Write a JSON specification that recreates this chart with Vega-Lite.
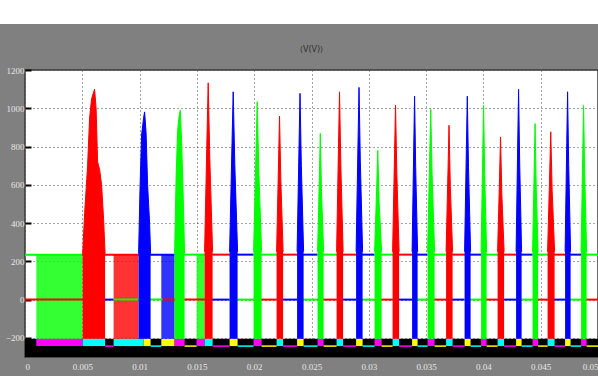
{
  "$schema": "https://vega.github.io/schema/vega-lite/v6.json",
  "width": 573,
  "height": 287,
  "autosize": {"type": "none"},
  "padding": {"left": 25, "top": 70, "right": 0, "bottom": 19},
  "background": "#808080",
  "datasets": {
    "pulses": [
      {"id":"p1","ph":"a","t":0.005026,"v":230},{"id":"p1","ph":"a","t":0.005201,"v":450},{"id":"p1","ph":"a","t":0.005462,"v":700},{"id":"p1","ph":"a","t":0.005637,"v":950},{"id":"p1","ph":"a","t":0.005812,"v":1050},{"id":"p1","ph":"a","t":0.006073,"v":1100},{"id":"p1","ph":"a","t":0.006204,"v":1000},{"id":"p1","ph":"a","t":0.006335,"v":720},{"id":"p1","ph":"a","t":0.00651,"v":680},{"id":"p1","ph":"a","t":0.006684,"v":600},{"id":"p1","ph":"a","t":0.006859,"v":420},{"id":"p1","ph":"a","t":0.00699,"v":240},
      {"id":"p2","ph":"b","t":0.009913,"v":240},{"id":"p2","ph":"b","t":0.010044,"v":600},{"id":"p2","ph":"b","t":0.010175,"v":860},{"id":"p2","ph":"b","t":0.010349,"v":950},{"id":"p2","ph":"b","t":0.010436,"v":981},{"id":"p2","ph":"b","t":0.010567,"v":870},{"id":"p2","ph":"b","t":0.010698,"v":600},{"id":"p2","ph":"b","t":0.010873,"v":400},{"id":"p2","ph":"b","t":0.01096,"v":240},
      {"id":"p3","ph":"c","t":0.013054,"v":240},{"id":"p3","ph":"c","t":0.013185,"v":640},{"id":"p3","ph":"c","t":0.013316,"v":880},{"id":"p3","ph":"c","t":0.013447,"v":960},{"id":"p3","ph":"c","t":0.013551,"v":990},{"id":"p3","ph":"c","t":0.013665,"v":830},{"id":"p3","ph":"c","t":0.013796,"v":560},{"id":"p3","ph":"c","t":0.013927,"v":240},
      {"id":"p4","ph":"a","t":0.015672,"v":250},{"id":"p4","ph":"a","t":0.015881,"v":850},{"id":"p4","ph":"a","t":0.015986,"v":1133},{"id":"p4","ph":"a","t":0.016126,"v":736},{"id":"p4","ph":"a","t":0.01637,"v":250},
      {"id":"p5","ph":"b","t":0.017853,"v":250},{"id":"p5","ph":"b","t":0.018063,"v":815},{"id":"p5","ph":"b","t":0.018167,"v":1086},{"id":"p5","ph":"b","t":0.018307,"v":706},{"id":"p5","ph":"b","t":0.018551,"v":250},
      {"id":"p6","ph":"c","t":0.019947,"v":250},{"id":"p6","ph":"c","t":0.020157,"v":776},{"id":"p6","ph":"c","t":0.020262,"v":1034},{"id":"p6","ph":"c","t":0.020401,"v":672},{"id":"p6","ph":"c","t":0.020646,"v":250},
      {"id":"p7","ph":"a","t":0.021955,"v":250},{"id":"p7","ph":"a","t":0.022125,"v":719},{"id":"p7","ph":"a","t":0.02221,"v":959},{"id":"p7","ph":"a","t":0.022324,"v":623},{"id":"p7","ph":"a","t":0.022522,"v":250},
      {"id":"p8","ph":"b","t":0.023743,"v":250},{"id":"p8","ph":"b","t":0.023914,"v":809},{"id":"p8","ph":"b","t":0.023999,"v":1078},{"id":"p8","ph":"b","t":0.024113,"v":701},{"id":"p8","ph":"b","t":0.024311,"v":250},
      {"id":"p9","ph":"c","t":0.025532,"v":250},{"id":"p9","ph":"c","t":0.025689,"v":651},{"id":"p9","ph":"c","t":0.025768,"v":868},{"id":"p9","ph":"c","t":0.025872,"v":564},{"id":"p9","ph":"c","t":0.026056,"v":250},
      {"id":"p10","ph":"a","t":0.02719,"v":250},{"id":"p10","ph":"a","t":0.02736,"v":815},{"id":"p10","ph":"a","t":0.027446,"v":1086},{"id":"p10","ph":"a","t":0.027559,"v":706},{"id":"p10","ph":"a","t":0.027757,"v":250},
      {"id":"p11","ph":"b","t":0.028892,"v":250},{"id":"p11","ph":"b","t":0.029062,"v":832},{"id":"p11","ph":"b","t":0.029147,"v":1109},{"id":"p11","ph":"b","t":0.029261,"v":721},{"id":"p11","ph":"b","t":0.029459,"v":250},
      {"id":"p12","ph":"c","t":0.030506,"v":250},{"id":"p12","ph":"c","t":0.030689,"v":585},{"id":"p12","ph":"c","t":0.030781,"v":780},{"id":"p12","ph":"c","t":0.030903,"v":507},{"id":"p12","ph":"c","t":0.031117,"v":250},
      {"id":"p13","ph":"a","t":0.032077,"v":250},{"id":"p13","ph":"a","t":0.032247,"v":762},{"id":"p13","ph":"a","t":0.032333,"v":1016},{"id":"p13","ph":"a","t":0.032446,"v":660},{"id":"p13","ph":"a","t":0.032644,"v":250},
      {"id":"p14","ph":"b","t":0.033778,"v":250},{"id":"p14","ph":"b","t":0.033922,"v":797},{"id":"p14","ph":"b","t":0.033995,"v":1063},{"id":"p14","ph":"b","t":0.034091,"v":691},{"id":"p14","ph":"b","t":0.034258,"v":250},
      {"id":"p15","ph":"c","t":0.035131,"v":250},{"id":"p15","ph":"c","t":0.035314,"v":746},{"id":"p15","ph":"c","t":0.035406,"v":994},{"id":"p15","ph":"c","t":0.035528,"v":646},{"id":"p15","ph":"c","t":0.035742,"v":250},
      {"id":"p16","ph":"a","t":0.036745,"v":250},{"id":"p16","ph":"a","t":0.036915,"v":683},{"id":"p16","ph":"a","t":0.037001,"v":911},{"id":"p16","ph":"a","t":0.037114,"v":592},{"id":"p16","ph":"a","t":0.037312,"v":250},
      {"id":"p17","ph":"b","t":0.038359,"v":250},{"id":"p17","ph":"b","t":0.038517,"v":797},{"id":"p17","ph":"b","t":0.038595,"v":1063},{"id":"p17","ph":"b","t":0.0387,"v":691},{"id":"p17","ph":"b","t":0.038883,"v":250},
      {"id":"p18","ph":"c","t":0.039799,"v":250},{"id":"p18","ph":"c","t":0.039943,"v":762},{"id":"p18","ph":"c","t":0.040016,"v":1016},{"id":"p18","ph":"c","t":0.040112,"v":660},{"id":"p18","ph":"c","t":0.040279,"v":250},
      {"id":"p19","ph":"a","t":0.041239,"v":250},{"id":"p19","ph":"a","t":0.041409,"v":638},{"id":"p19","ph":"a","t":0.041495,"v":850},{"id":"p19","ph":"a","t":0.041608,"v":553},{"id":"p19","ph":"a","t":0.041806,"v":250},
      {"id":"p20","ph":"b","t":0.042853,"v":250},{"id":"p20","ph":"b","t":0.042997,"v":824},{"id":"p20","ph":"b","t":0.04307,"v":1099},{"id":"p20","ph":"b","t":0.043166,"v":714},{"id":"p20","ph":"b","t":0.043333,"v":250},
      {"id":"p21","ph":"c","t":0.044293,"v":250},{"id":"p21","ph":"c","t":0.044437,"v":690},{"id":"p21","ph":"c","t":0.04451,"v":920},{"id":"p21","ph":"c","t":0.044606,"v":598},{"id":"p21","ph":"c","t":0.044773,"v":250},
      {"id":"p22","ph":"a","t":0.045602,"v":250},{"id":"p22","ph":"a","t":0.045785,"v":658},{"id":"p22","ph":"a","t":0.045877,"v":877},{"id":"p22","ph":"a","t":0.045999,"v":570},{"id":"p22","ph":"a","t":0.046213,"v":250},
      {"id":"p23","ph":"b","t":0.047129,"v":250},{"id":"p23","ph":"b","t":0.047273,"v":815},{"id":"p23","ph":"b","t":0.047346,"v":1086},{"id":"p23","ph":"b","t":0.047442,"v":706},{"id":"p23","ph":"b","t":0.047609,"v":250},
      {"id":"p24","ph":"c","t":0.048526,"v":250},{"id":"p24","ph":"c","t":0.048669,"v":762},{"id":"p24","ph":"c","t":0.048742,"v":1016},{"id":"p24","ph":"c","t":0.048838,"v":660},{"id":"p24","ph":"c","t":0.049005,"v":250}
    ],
    "levels": [
      {"t0":0,"t1":0.005026,"v":235,"ph":"c"},{"t0":0.005026,"t1":0.009913,"v":235,"ph":"a"},{"t0":0.009913,"t1":0.013054,"v":235,"ph":"b"},{"t0":0.013054,"t1":0.015672,"v":235,"ph":"c"},{"t0":0.015672,"t1":0.017853,"v":235,"ph":"a"},{"t0":0.017853,"t1":0.019947,"v":235,"ph":"b"},{"t0":0.019947,"t1":0.021955,"v":235,"ph":"c"},{"t0":0.021955,"t1":0.023743,"v":235,"ph":"a"},{"t0":0.023743,"t1":0.025532,"v":235,"ph":"b"},{"t0":0.025532,"t1":0.02719,"v":235,"ph":"c"},{"t0":0.02719,"t1":0.028892,"v":235,"ph":"a"},{"t0":0.028892,"t1":0.030506,"v":235,"ph":"b"},{"t0":0.030506,"t1":0.032077,"v":235,"ph":"c"},{"t0":0.032077,"t1":0.033778,"v":235,"ph":"a"},{"t0":0.033778,"t1":0.035131,"v":235,"ph":"b"},{"t0":0.035131,"t1":0.036745,"v":235,"ph":"c"},{"t0":0.036745,"t1":0.038359,"v":235,"ph":"a"},{"t0":0.038359,"t1":0.039799,"v":235,"ph":"b"},{"t0":0.039799,"t1":0.041239,"v":235,"ph":"c"},{"t0":0.041239,"t1":0.042853,"v":235,"ph":"a"},{"t0":0.042853,"t1":0.044293,"v":235,"ph":"b"},{"t0":0.044293,"t1":0.045602,"v":235,"ph":"c"},{"t0":0.045602,"t1":0.047129,"v":235,"ph":"a"},{"t0":0.047129,"t1":0.048526,"v":235,"ph":"b"},{"t0":0.048526,"t1":0.05,"v":235,"ph":"c"},
      {"t0":0,"t1":0.005026,"v":0,"ph":"a"},{"t0":0.005026,"t1":0.007731,"v":0,"ph":"b"},{"t0":0.007731,"t1":0.012007,"v":0,"ph":"c"},{"t0":0.012007,"t1":0.015672,"v":0,"ph":"a"},{"t0":0.015672,"t1":0.017853,"v":0,"ph":"b"},{"t0":0.017853,"t1":0.019947,"v":0,"ph":"c"},{"t0":0.019947,"t1":0.021955,"v":0,"ph":"a"},{"t0":0.021955,"t1":0.023743,"v":0,"ph":"b"},{"t0":0.023743,"t1":0.025532,"v":0,"ph":"c"},{"t0":0.025532,"t1":0.02719,"v":0,"ph":"a"},{"t0":0.02719,"t1":0.028892,"v":0,"ph":"b"},{"t0":0.028892,"t1":0.030506,"v":0,"ph":"c"},{"t0":0.030506,"t1":0.032077,"v":0,"ph":"a"},{"t0":0.032077,"t1":0.033778,"v":0,"ph":"b"},{"t0":0.033778,"t1":0.035131,"v":0,"ph":"c"},{"t0":0.035131,"t1":0.036745,"v":0,"ph":"a"},{"t0":0.036745,"t1":0.038359,"v":0,"ph":"b"},{"t0":0.038359,"t1":0.039799,"v":0,"ph":"c"},{"t0":0.039799,"t1":0.041239,"v":0,"ph":"a"},{"t0":0.041239,"t1":0.042853,"v":0,"ph":"b"},{"t0":0.042853,"t1":0.044293,"v":0,"ph":"c"},{"t0":0.044293,"t1":0.045602,"v":0,"ph":"a"},{"t0":0.045602,"t1":0.047129,"v":0,"ph":"b"},{"t0":0.047129,"t1":0.048526,"v":0,"ph":"c"},{"t0":0.048526,"t1":0.05,"v":0,"ph":"a"}
    ],
    "stripes": [
      {"t0":0.000986,"t1":0.005026,"ph":"c"},{"t0":0.007731,"t1":0.009913,"ph":"a"},{"t0":0.011894,"t1":0.013054,"ph":"b"},{"t0":0.014974,"t1":0.015672,"ph":"c"}
    ],
    "gates": [
      {"t0":0.000986,"t1":0.005026,"g":"gc"},{"t0":0.005026,"t1":0.00699,"g":"ga"},{"t0":0.007731,"t1":0.010349,"g":"ga"},{"t0":0.010349,"t1":0.01096,"g":"gb"},{"t0":0.011894,"t1":0.013054,"g":"gb"},{"t0":0.013054,"t1":0.013927,"g":"gc"},{"t0":0.014974,"t1":0.015672,"g":"gc"},
      {"t0":0.015672,"t1":0.01637,"g":"ga"},{"t0":0.017853,"t1":0.018551,"g":"gb"},{"t0":0.019947,"t1":0.020646,"g":"gc"},{"t0":0.021955,"t1":0.022522,"g":"ga"},{"t0":0.023743,"t1":0.024311,"g":"gb"},{"t0":0.025532,"t1":0.026056,"g":"gc"},{"t0":0.02719,"t1":0.027757,"g":"ga"},{"t0":0.028892,"t1":0.029459,"g":"gb"},{"t0":0.030506,"t1":0.031117,"g":"gc"},{"t0":0.032077,"t1":0.032644,"g":"ga"},{"t0":0.033778,"t1":0.034258,"g":"gb"},{"t0":0.035131,"t1":0.035742,"g":"gc"},{"t0":0.036745,"t1":0.037312,"g":"ga"},{"t0":0.038359,"t1":0.038883,"g":"gb"},{"t0":0.039799,"t1":0.040279,"g":"gc"},{"t0":0.041239,"t1":0.041806,"g":"ga"},{"t0":0.042853,"t1":0.043333,"g":"gb"},{"t0":0.044293,"t1":0.044773,"g":"gc"},{"t0":0.045602,"t1":0.046213,"g":"ga"},{"t0":0.047129,"t1":0.047609,"g":"gb"},{"t0":0.048526,"t1":0.049005,"g":"gc"}
    ],
    "gatelines": [
      {"t0":0.00699,"t1":0.007731,"g":"gc"},{"t0":0.01096,"t1":0.011894,"g":"ga"},{"t0":0.013927,"t1":0.014974,"g":"gb"},{"t0":0.01637,"t1":0.017853,"g":"gc"},{"t0":0.018551,"t1":0.019947,"g":"ga"},{"t0":0.020646,"t1":0.021955,"g":"gb"},{"t0":0.022522,"t1":0.023743,"g":"gc"},{"t0":0.024311,"t1":0.025532,"g":"ga"},{"t0":0.026056,"t1":0.02719,"g":"gb"},{"t0":0.027757,"t1":0.028892,"g":"gc"},{"t0":0.029459,"t1":0.030506,"g":"ga"},{"t0":0.031117,"t1":0.032077,"g":"gb"},{"t0":0.032644,"t1":0.033778,"g":"gc"},{"t0":0.034258,"t1":0.035131,"g":"ga"},{"t0":0.035742,"t1":0.036745,"g":"gb"},{"t0":0.037312,"t1":0.038359,"g":"gc"},{"t0":0.038883,"t1":0.039799,"g":"ga"},{"t0":0.040279,"t1":0.041239,"g":"gb"},{"t0":0.041806,"t1":0.042853,"g":"gc"},{"t0":0.043333,"t1":0.044293,"g":"ga"},{"t0":0.044773,"t1":0.045602,"g":"gb"},{"t0":0.046213,"t1":0.047129,"g":"gc"},{"t0":0.047609,"t1":0.048526,"g":"ga"},{"t0":0.049005,"t1":0.05,"g":"gb"}
    ]
  },
  "layer": [
    {
      "data": {"values": [{}]},
      "mark": {"type": "rect", "color": "white"},
      "encoding": {
        "x": {"datum": -0.01, "type": "quantitative", "scale": {"domain": [0, 0.05], "nice": false, "zero": false}, "axis": {"values": [0,0.005,0.01,0.015,0.02,0.025,0.03,0.035,0.04,0.045,0.05], "format": "~g", "labelPadding": 5, "ticks": false, "title": null}},
        "x2": {"datum": 0.06},
        "y": {"datum": 1440, "type": "quantitative", "scale": {"domain": [-300, 1200], "nice": false, "zero": false}, "axis": {"values": [-200,0,200,400,600,800,1000,1200], "format": "d", "labelPadding": 7, "tickSize": -6, "tickColor": "black", "tickWidth": 2, "title": null}},
        "y2": {"datum": 1570}
      }
    },
    {
      "data": {"values": [{"label": "⟨V(V)⟩"}]},
      "mark": {"type": "text", "font": "DejaVu Sans", "fontSize": 8, "color": "#303030", "align": "center", "baseline": "middle"},
      "encoding": {"x": {"datum": 0.025, "type": "quantitative"}, "y": {"datum": 1305, "type": "quantitative"}, "text": {"field": "label"}}
    },
    {
      "data": {"values": [{}]},
      "mark": {"type": "rect", "color": "black"},
      "encoding": {"x": {"datum": 0, "type": "quantitative"}, "x2": {"datum": 0.05}, "y": {"datum": -300, "type": "quantitative"}, "y2": {"datum": -205}}
    },
    {
      "data": {"name": "gates"},
      "mark": {"type": "rect"},
      "encoding": {"x": {"field": "t0", "type": "quantitative"}, "x2": {"field": "t1"}, "y": {"datum": -205, "type": "quantitative"}, "y2": {"datum": -243}, "color": {"field": "g", "type": "nominal", "scale": {"domain": ["a","b","c","ga","gb","gc"], "range": ["#ff0000","#0000ff","#00ff00","#00ffff","#ffff00","#ff00ff"]}, "legend": null}}
    },
    {
      "data": {"name": "gatelines"},
      "mark": {"type": "rule", "strokeWidth": 1.5},
      "encoding": {"x": {"field": "t0", "type": "quantitative"}, "x2": {"field": "t1"}, "y": {"datum": -243, "type": "quantitative"}, "color": {"field": "g", "type": "nominal"}}
    },
    {
      "data": {"name": "stripes"},
      "mark": {"type": "rect", "opacity": 0.8},
      "encoding": {"x": {"field": "t0", "type": "quantitative"}, "x2": {"field": "t1"}, "y": {"datum": -205, "type": "quantitative"}, "y2": {"datum": 235}, "color": {"field": "ph", "type": "nominal"}}
    },
    {
      "data": {"name": "levels"},
      "mark": {"type": "rule", "strokeWidth": 2},
      "encoding": {"x": {"field": "t0", "type": "quantitative"}, "x2": {"field": "t1"}, "y": {"field": "v", "type": "quantitative"}, "color": {"field": "ph", "type": "nominal"}}
    },
    {
      "data": {"name": "pulses"},
      "mark": {"type": "area"},
      "encoding": {"x": {"field": "t", "type": "quantitative"}, "y": {"field": "v", "type": "quantitative"}, "y2": {"datum": -205}, "detail": {"field": "id"}, "color": {"field": "ph", "type": "nominal"}}
    },
    {
      "data": {"name": "pulses"},
      "mark": {"type": "line", "strokeWidth": 1},
      "encoding": {"x": {"field": "t", "type": "quantitative"}, "y": {"field": "v", "type": "quantitative"}, "detail": {"field": "id"}, "color": {"field": "ph", "type": "nominal"}}
    }
  ],
  "config": {
    "view": {"fill": "white", "stroke": "#3a3a3a", "strokeWidth": 1.5},
    "axis": {"grid": true, "gridColor": "#4a4a4a", "gridDash": [1, 3], "gridWidth": 1, "domain": false, "labelFont": "Liberation Sans Narrow", "labelFontSize": 9, "labelColor": "#e6e6e6"}
  }
}
